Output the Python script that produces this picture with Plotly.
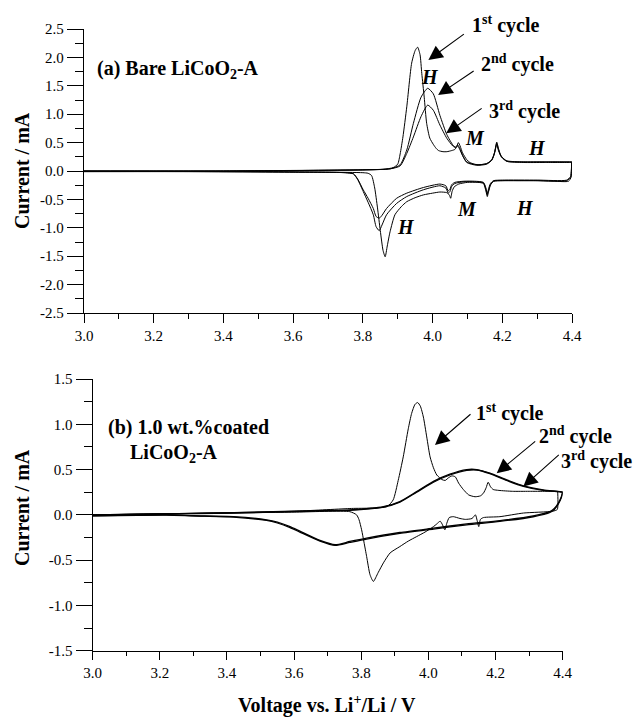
import plotly.graph_objects as go

# ---------------- data ----------------
# (a) Bare LiCoO2-A
a_c1_an_v = [3.00, 3.20, 3.40, 3.60, 3.80, 3.86, 3.887, 3.900, 3.907, 3.915, 3.926, 3.940, 3.950, 3.957, 3.964, 3.969,
             3.976, 3.983, 3.992, 4.002, 4.010, 4.017, 4.030, 4.041, 4.055, 4.064, 4.070, 4.074, 4.079, 4.086, 4.098,
             4.107, 4.120, 4.136, 4.155, 4.168, 4.176, 4.181, 4.184, 4.189, 4.195, 4.205, 4.213, 4.240, 4.280, 4.320,
             4.360, 4.399]
a_c1_an_i = [0.00, 0.00, 0.00, 0.01, 0.02, 0.03, 0.06, 0.12, 0.30, 0.60, 1.13, 1.90, 2.12, 2.18, 2.05, 1.72,
             1.30, 0.84, 0.58, 0.47, 0.40, 0.36, 0.34, 0.34, 0.36, 0.38, 0.44, 0.50, 0.44, 0.32, 0.20,
             0.15, 0.12, 0.11, 0.13, 0.18, 0.28, 0.42, 0.51, 0.40, 0.28, 0.21, 0.17, 0.16, 0.16, 0.16,
             0.16, 0.16]
a_c1_ca_v = [4.400, 4.398, 4.390, 4.350, 4.300, 4.250, 4.200, 4.175, 4.166, 4.160, 4.157, 4.153, 4.146, 4.130, 4.100,
             4.075, 4.062, 4.056, 4.052, 4.048, 4.040, 4.021, 4.000, 3.974, 3.950, 3.926, 3.910, 3.892, 3.878, 3.870,
             3.864, 3.858, 3.850, 3.842, 3.834, 3.825, 3.815, 3.800, 3.700, 3.500, 3.300, 3.000]
a_c1_ca_i = [0.16, -0.10, -0.18, -0.18, -0.17, -0.17, -0.17, -0.18, -0.25, -0.38, -0.45, -0.35, -0.22, -0.20, -0.20,
             -0.23, -0.28, -0.36, -0.48, -0.42, -0.38, -0.37, -0.39, -0.42, -0.47, -0.54, -0.63, -0.77, -1.07, -1.32,
             -1.51, -1.40, -1.05, -0.65, -0.30, -0.08, -0.04, -0.03, -0.02, -0.01, -0.01, -0.01]

a_c23_an_v = [3.00, 3.40, 3.80, 3.88, 3.907, 3.926, 3.945, 3.967, 3.986, 4.002, 4.021, 4.041, 4.058, 4.066, 4.072,
              4.078, 4.086, 4.098, 4.127, 4.155, 4.170, 4.178, 4.184, 4.189, 4.198, 4.213, 4.260, 4.320, 4.399]
a_c2_an_i = [0.00, 0.00, 0.02, 0.04, 0.11, 0.37, 0.84, 1.30, 1.456, 1.36, 0.98, 0.64, 0.46, 0.42, 0.46,
             0.40, 0.28, 0.16, 0.11, 0.13, 0.20, 0.33, 0.49, 0.38, 0.25, 0.18, 0.16, 0.16, 0.16]
a_c3_an_i = [0.00, 0.00, 0.02, 0.04, 0.09, 0.31, 0.60, 0.96, 1.16, 1.07, 0.81, 0.575, 0.44, 0.41, 0.44,
             0.38, 0.27, 0.15, 0.10, 0.12, 0.19, 0.32, 0.47, 0.36, 0.24, 0.17, 0.15, 0.15, 0.15]

a_c23_ca_v = [4.399, 4.396, 4.385, 4.300, 4.200, 4.175, 4.166, 4.160, 4.157, 4.153, 4.146, 4.120, 4.090, 4.064,
              4.055, 4.050, 4.045, 4.038, 4.021, 3.974, 3.926, 3.897, 3.868, 3.855, 3.847, 3.838, 3.830, 3.815,
              3.801, 3.785, 3.773, 3.750, 3.600, 3.300, 3.000]
a_c2_ca_i = [0.16, -0.10, -0.17, -0.17, -0.17, -0.18, -0.24, -0.36, -0.42, -0.32, -0.21, -0.19, -0.19, -0.22,
             -0.27, -0.36, -0.39, -0.30, -0.26, -0.33, -0.45, -0.57, -0.77, -0.95, -1.05, -0.98, -0.77, -0.55,
             -0.36, -0.15, -0.05, -0.03, -0.02, -0.01, -0.01]
a_c3_ca_i = [0.15, -0.10, -0.16, -0.16, -0.16, -0.17, -0.22, -0.33, -0.40, -0.30, -0.20, -0.18, -0.18, -0.20,
             -0.24, -0.32, -0.35, -0.26, -0.23, -0.29, -0.39, -0.48, -0.66, -0.78, -0.83, -0.80, -0.66, -0.48,
             -0.33, -0.14, -0.05, -0.03, -0.02, -0.01, -0.01]

# (b) 1.0 wt.% coated LiCoO2-A
b_c1_an_v = [3.00, 3.20, 3.42, 3.60, 3.766, 3.876, 3.895, 3.910, 3.925, 3.940, 3.950, 3.960, 3.968, 3.976, 3.985,
             3.995, 4.005, 4.015, 4.025, 4.040, 4.050, 4.060, 4.070, 4.080, 4.090, 4.104, 4.120, 4.139, 4.155,
             4.164, 4.172, 4.178, 4.185, 4.193, 4.210, 4.250, 4.300, 4.350, 4.385]
b_c1_an_i = [0.00, 0.01, 0.025, 0.04, 0.07, 0.09, 0.165, 0.38, 0.64, 0.95, 1.12, 1.22, 1.24, 1.20, 1.08,
             0.86, 0.64, 0.52, 0.44, 0.39, 0.38, 0.41, 0.43, 0.42, 0.35, 0.28, 0.22, 0.20, 0.21,
             0.24, 0.30, 0.36, 0.31, 0.28, 0.27, 0.26, 0.26, 0.26, 0.26]
b_c1_ca_v = [4.385, 4.384, 4.370, 4.283, 4.213, 4.164, 4.155, 4.150, 4.145, 4.140, 4.130, 4.110, 4.094, 4.074,
             4.062, 4.055, 4.049, 4.042, 4.035, 4.025, 4.015, 3.990, 3.965, 3.940, 3.915, 3.886, 3.866, 3.850,
             3.836, 3.826, 3.816, 3.808, 3.801, 3.793, 3.786, 3.766, 3.600, 3.400, 3.200, 3.000]
b_c1_ca_i = [0.26, 0.06, 0.04, 0.02, -0.02, -0.03, -0.05, -0.13, -0.06, 0.00, -0.04, -0.05, -0.04, -0.02,
             -0.03, -0.09, -0.165, -0.11, -0.07, -0.10, -0.13, -0.19, -0.24, -0.29, -0.35, -0.42, -0.53, -0.64,
             -0.735, -0.66, -0.46, -0.30, -0.165, -0.05, 0.00, 0.035, 0.03, 0.02, 0.01, 0.00]

b_c23_an_v = [3.00, 3.20, 3.42, 3.60, 3.677, 3.766, 3.866, 3.915, 3.965, 4.015, 4.064, 4.114, 4.144, 4.183, 4.233,
              4.283, 4.342, 4.392, 4.400]
b_c2_an_i = [0.00, 0.01, 0.025, 0.04, 0.047, 0.055, 0.09, 0.147, 0.257, 0.37, 0.45, 0.50, 0.50, 0.46, 0.386,
             0.32, 0.276, 0.257, 0.25]
b_c3_an_i = [0.00, 0.01, 0.02, 0.035, 0.043, 0.05, 0.085, 0.14, 0.25, 0.36, 0.44, 0.49, 0.495, 0.455, 0.38,
             0.315, 0.27, 0.255, 0.25]
b_c23_ca_v = [4.400, 4.396, 4.387, 4.375, 4.362, 4.312, 4.213, 4.114, 4.015, 3.915, 3.816, 3.766, 3.722, 3.677,
              3.617, 3.588, 3.550, 3.518, 3.419, 3.300, 3.220, 3.000]
b_c2_ca_i = [0.25, 0.20, 0.13, 0.07, 0.036, -0.011, -0.063, -0.10, -0.147, -0.195, -0.257, -0.294, -0.33, -0.283,
             -0.18, -0.13, -0.08, -0.055, -0.02, -0.01, 0.00, -0.01]
b_c3_ca_i = [0.25, 0.19, 0.12, 0.06, 0.026, -0.021, -0.073, -0.11, -0.157, -0.205, -0.267, -0.304, -0.338, -0.29,
             -0.19, -0.14, -0.09, -0.062, -0.025, -0.012, -0.002, -0.01]

x_ticks = [3.0, 3.2, 3.4, 3.6, 3.8, 4.0, 4.2, 4.4]
x_ticktext = ["3.0", "3.2", "3.4", "3.6", "3.8", "4.0", "4.2", "4.4"]
ya_ticks = [2.5, 2.0, 1.5, 1.0, 0.5, 0.0, -0.5, -1.0, -1.5, -2.0, -2.5]
ya_ticktext = ["2.5", "2.0", "1.5", "1.0", "0.5", "0.0", "-0.5", "-1.0", "-1.5", "-2.0", "-2.5"]
yb_ticks = [1.5, 1.0, 0.5, 0.0, -0.5, -1.0, -1.5]
yb_ticktext = ["1.5", "1.0", "0.5", "0.0", "-0.5", "-1.0", "-1.5"]

# ---------------- figure ----------------
W, H = 635, 720
FONT = "Liberation Serif"
fig = go.Figure()

def add_loop(vx_an, i_an, vx_ca, i_ca, xa, ya, width=1.0):
    fig.add_trace(go.Scatter(x=list(vx_an) + list(vx_ca), y=list(i_an) + list(i_ca),
                             mode="lines", xaxis=xa, yaxis=ya, showlegend=False,
                             line=dict(color="black", width=width, shape="spline", smoothing=0.6),
                             hoverinfo="skip"))

add_loop(a_c1_an_v, a_c1_an_i, a_c1_ca_v, a_c1_ca_i, "x", "y")
add_loop(a_c23_an_v, a_c2_an_i, a_c23_ca_v, a_c2_ca_i, "x", "y")
add_loop(a_c23_an_v, a_c3_an_i, a_c23_ca_v, a_c3_ca_i, "x", "y")
add_loop(b_c1_an_v, b_c1_an_i, b_c1_ca_v, b_c1_ca_i, "x2", "y2")
add_loop(b_c23_an_v, b_c2_an_i, b_c23_ca_v, b_c2_ca_i, "x2", "y2", 1.3)
add_loop(b_c23_an_v, b_c3_an_i, b_c23_ca_v, b_c3_ca_i, "x2", "y2", 1.3)

def px2paper(px, py):
    return px / W, 1 - py / H

axis_common = dict(showline=True, linecolor="black", linewidth=1.3, ticks="outside",
                   tickcolor="black", tickwidth=1.3, showgrid=False, zeroline=False,
                   mirror=False, automargin=False, tickfont=dict(family=FONT, size=15, color="black"))

xa0, _ = px2paper(84, 0); xa1, _ = px2paper(572, 0)
_, ya0 = px2paper(0, 313); _, ya1 = px2paper(0, 29)
xb0, _ = px2paper(92.7, 0); xb1, _ = px2paper(562.7, 0)
_, yb0 = px2paper(0, 650.7); _, yb1 = px2paper(0, 379)

fig.update_layout(
    width=W, height=H, autosize=False, margin=dict(l=0, r=0, t=0, b=0, pad=0, autoexpand=False),
    paper_bgcolor="white", plot_bgcolor="white",
    font=dict(family=FONT, color="black"),
    xaxis=dict(domain=[xa0, xa1], anchor="y", range=[3.0, 4.4], tickvals=x_ticks, ticktext=x_ticktext,
               ticklen=9, minor=dict(dtick=0.1, tick0=3.0, ticklen=5, ticks="outside", tickcolor="black", tickwidth=1.3),
               **axis_common),
    yaxis=dict(domain=[ya0, ya1], anchor="x", range=[-2.5, 2.5], tickvals=ya_ticks, ticktext=ya_ticktext,
               ticklen=16, minor=dict(dtick=0.25, tick0=0, ticklen=8, ticks="outside", tickcolor="black", tickwidth=1.3),
               **axis_common),
    xaxis2=dict(domain=[xb0, xb1], anchor="y2", range=[3.0, 4.4], tickvals=x_ticks, ticktext=x_ticktext,
                ticklen=8, minor=dict(dtick=0.1, tick0=3.0, ticklen=4, ticks="outside", tickcolor="black", tickwidth=1.3),
                **axis_common),
    yaxis2=dict(domain=[yb0, yb1], anchor="x2", range=[-1.5, 1.5], tickvals=yb_ticks, ticktext=yb_ticktext,
                ticklen=16, minor=dict(dtick=0.25, tick0=0, ticklen=8, ticks="outside", tickcolor="black", tickwidth=1.3),
                **axis_common),
)

ann = []
def text_ann(txt, px, py, size=19, xanchor="center", angle=0):
    x, y = px2paper(px, py)
    ann.append(dict(text=txt, x=x, y=y, xref="paper", yref="paper", showarrow=False,
                    xanchor=xanchor, yanchor="middle", textangle=angle,
                    font=dict(family=FONT, size=size, color="black")))

def arrow_ann(x, y, ax, ay, xref, yref):
    ann.append(dict(text="", x=x, y=y, xref=xref, yref=yref, ax=ax, ay=ay, showarrow=True,
                    arrowhead=2, arrowsize=2.6, arrowwidth=1.1, arrowcolor="black"))

# axis titles
text_ann("<b>Current / mA</b>", 22, 171, size=20, angle=-90)
text_ann("<b>Current / mA</b>", 22, 508, size=20, angle=-90)
text_ann("<b>Voltage vs. Li<sup>+</sup>/Li / V</b>", 327, 704, size=20)

# panel labels
text_ann("<b>(a) Bare LiCoO<sub>2</sub>-A</b>", 95, 70, size=20, xanchor="left")
text_ann("<b>(b) 1.0 wt.%coated</b>", 106, 427, size=20, xanchor="left")
text_ann("<b>LiCoO<sub>2</sub>-A</b>", 128, 453, size=20, xanchor="left")

# cycle labels (a)
text_ann("<b>1<sup>st</sup> cycle</b>", 505, 25, size=20)
text_ann("<b>2<sup>nd</sup> cycle</b>", 517, 63, size=20)
text_ann("<b>3<sup>rd</sup> cycle</b>", 524, 110, size=20)
arrow_ann(3.988, 1.954, 37, -27, "x", "y")
arrow_ann(4.016, 1.338, 37, -25, "x", "y")
arrow_ann(4.039, 0.664, 37, -26, "x", "y")

# peak labels (a)
for t, px, py in [("H", 430, 77), ("M", 475, 138), ("H", 537, 148), ("M", 467, 209), ("H", 525, 208), ("H", 406, 227)]:
    text_ann("<b><i>%s</i></b>" % t, px, py, size=20)

# cycle labels (b)
text_ann("<b>1<sup>st</sup> cycle</b>", 509, 412, size=20)
text_ann("<b>2<sup>nd</sup> cycle</b>", 575, 435, size=20)
text_ann("<b>3<sup>rd</sup> cycle</b>", 596, 461, size=20)
arrow_ann(4.0196, 0.772, 37, -32, "x2", "y2")
arrow_ann(4.2034, 0.46, 40, -33, "x2", "y2")
arrow_ann(4.2826, 0.312, 37, -33, "x2", "y2")

fig.update_layout(annotations=ann)
fig.write_html("out.html", config={"displayModeBar": False},
               post_script="document.body.style.margin='0';document.body.style.overflow='hidden';")
